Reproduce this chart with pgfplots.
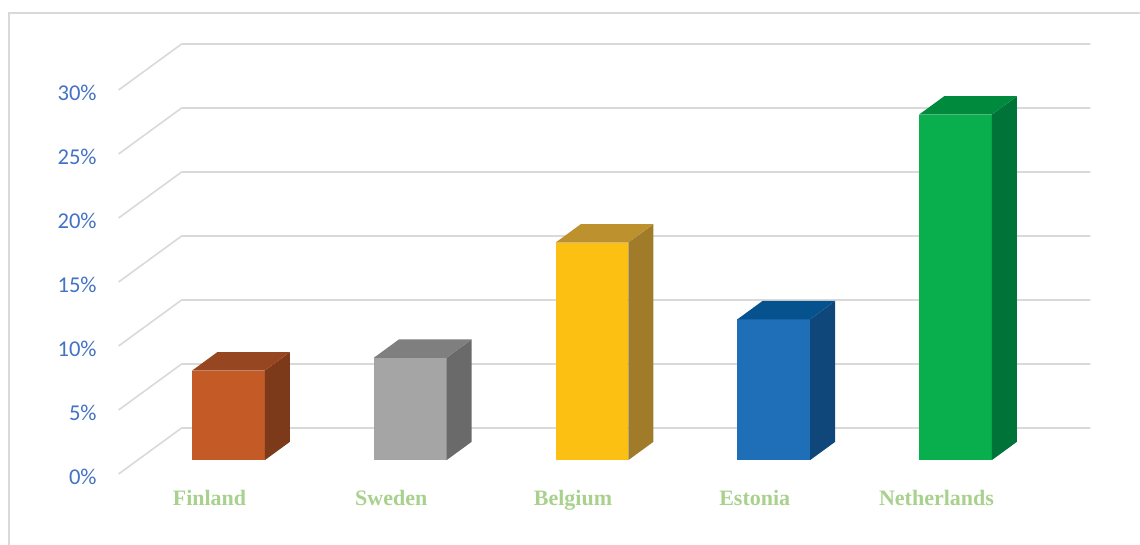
\documentclass[border=0pt]{standalone}
\usepackage{pgfplots}
\pgfplotsset{compat=1.18}
\usepackage{pgfplotstable}
\usepackage{fontspec}
\setmainfont{Liberation Serif}
\newfontfamily\carlito{Carlito}
\definecolor{tickblue}{HTML}{4472C4}
\definecolor{labgreen}{HTML}{A9D18E}
\definecolor{gridc}{HTML}{D9D9D9}
\definecolor{front0}{HTML}{C45A26}\definecolor{top0}{HTML}{964620}\definecolor{side0}{HTML}{7C3A1A}
\definecolor{front1}{HTML}{A5A5A5}\definecolor{top1}{HTML}{7F7F7F}\definecolor{side1}{HTML}{6A6A6A}
\definecolor{front2}{HTML}{FBC012}\definecolor{top2}{HTML}{BD912E}\definecolor{side2}{HTML}{A07C2A}
\definecolor{front3}{HTML}{1E6FB8}\definecolor{top3}{HTML}{05528F}\definecolor{side3}{HTML}{10477A}
\definecolor{front4}{HTML}{08AF4C}\definecolor{top4}{HTML}{008A3E}\definecolor{side4}{HTML}{007438}

% share (%) by country
\pgfplotstableread{
x v
0 7
1 8
2 17
3 11
4 27
}\data

% depth geometry (axis units)
\def\fx{0.104}   % shift of bar front face (x)
\def\fy{1.078}   % shift of bar front face (y)
\def\bx{0.1386}  % bar depth (x)
\def\by{1.438}   % bar depth (y)
\def\hw{0.2}     % half bar width
\def\wx{0.3466}  % wall depth (x)
\def\wy{3.594}   % wall depth (y)

\begin{document}
\begin{tikzpicture}
\useasboundingbox (0,0) rectangle (570pt,272.5pt);
\draw[gridc, line width=0.8pt] (4.5pt,0) -- (4.5pt,266pt) -- (570pt,266pt);
\begin{axis}[
  anchor=origin, at={(104.75pt,35.5pt)},
  x=90.875pt, y=6.4pt,
  xmin=-0.5, xmax=4.9, ymin=0, ymax=36,
  clip=false,
  axis line style={draw=none},
  major tick length=0pt,
  xtick={0,1,2,3,4},
  xticklabels={Finland,Sweden,Belgium,Estonia,Netherlands},
  ytick={0,5,10,15,20,25,30},
  yticklabels={0\%,5\%,10\%,15\%,20\%,25\%,30\%},
  xticklabel style={anchor=base, inner sep=0pt, yshift=-15.8pt,
    font=\bfseries\fontsize{11}{13}\selectfont, text=labgreen},
  yticklabel style={anchor=east, inner sep=0pt, xshift=-10.8pt, yshift=-1.2pt,
    font=\carlito\fontsize{11.3}{13}\selectfont, text=tickblue},
]
% gridlines (floor-left diagonal + back wall)
\pgfplotsinvokeforeach{0,5,10,15,20,25,30}{
  \pgfmathsetmacro\gxa{-0.5+\wx}
  \pgfmathsetmacro\gy{#1+\wy}
  \pgfmathsetmacro\gxb{4.5+\wx}
  \edef\temp{\noexpand\addplot[gridc, line width=0.8pt] coordinates {(-0.5,#1) (\gxa,\gy) (\gxb,\gy)};}
  \temp
}
% 3D bars
\pgfplotsinvokeforeach{0,1,2,3,4}{
  \pgfplotstablegetelem{#1}{v}\of\data
  \let\val\pgfplotsretval
  \pgfmathsetmacro\xl{#1+\fx-\hw}
  \pgfmathsetmacro\xr{#1+\fx+\hw}
  \pgfmathsetmacro\xlb{\xl+\bx}
  \pgfmathsetmacro\xrb{\xr+\bx}
  \pgfmathsetmacro\yb{\fy}
  \pgfmathsetmacro\yt{\val+\fy}
  \pgfmathsetmacro\ybb{\fy+\by}
  \pgfmathsetmacro\ytb{\val+\fy+\by}
  \edef\temp{%
    \noexpand\addplot[fill=front#1, draw=none] coordinates {(\xl,\yb) (\xr,\yb) (\xr,\yt) (\xl,\yt)};
    \noexpand\addplot[fill=side#1, draw=none] coordinates {(\xr,\yb) (\xrb,\ybb) (\xrb,\ytb) (\xr,\yt)};
    \noexpand\addplot[fill=top#1, draw=none] coordinates {(\xl,\yt) (\xr,\yt) (\xrb,\ytb) (\xlb,\ytb)};
  }
  \temp
}
\end{axis}
\end{tikzpicture}
\end{document}
